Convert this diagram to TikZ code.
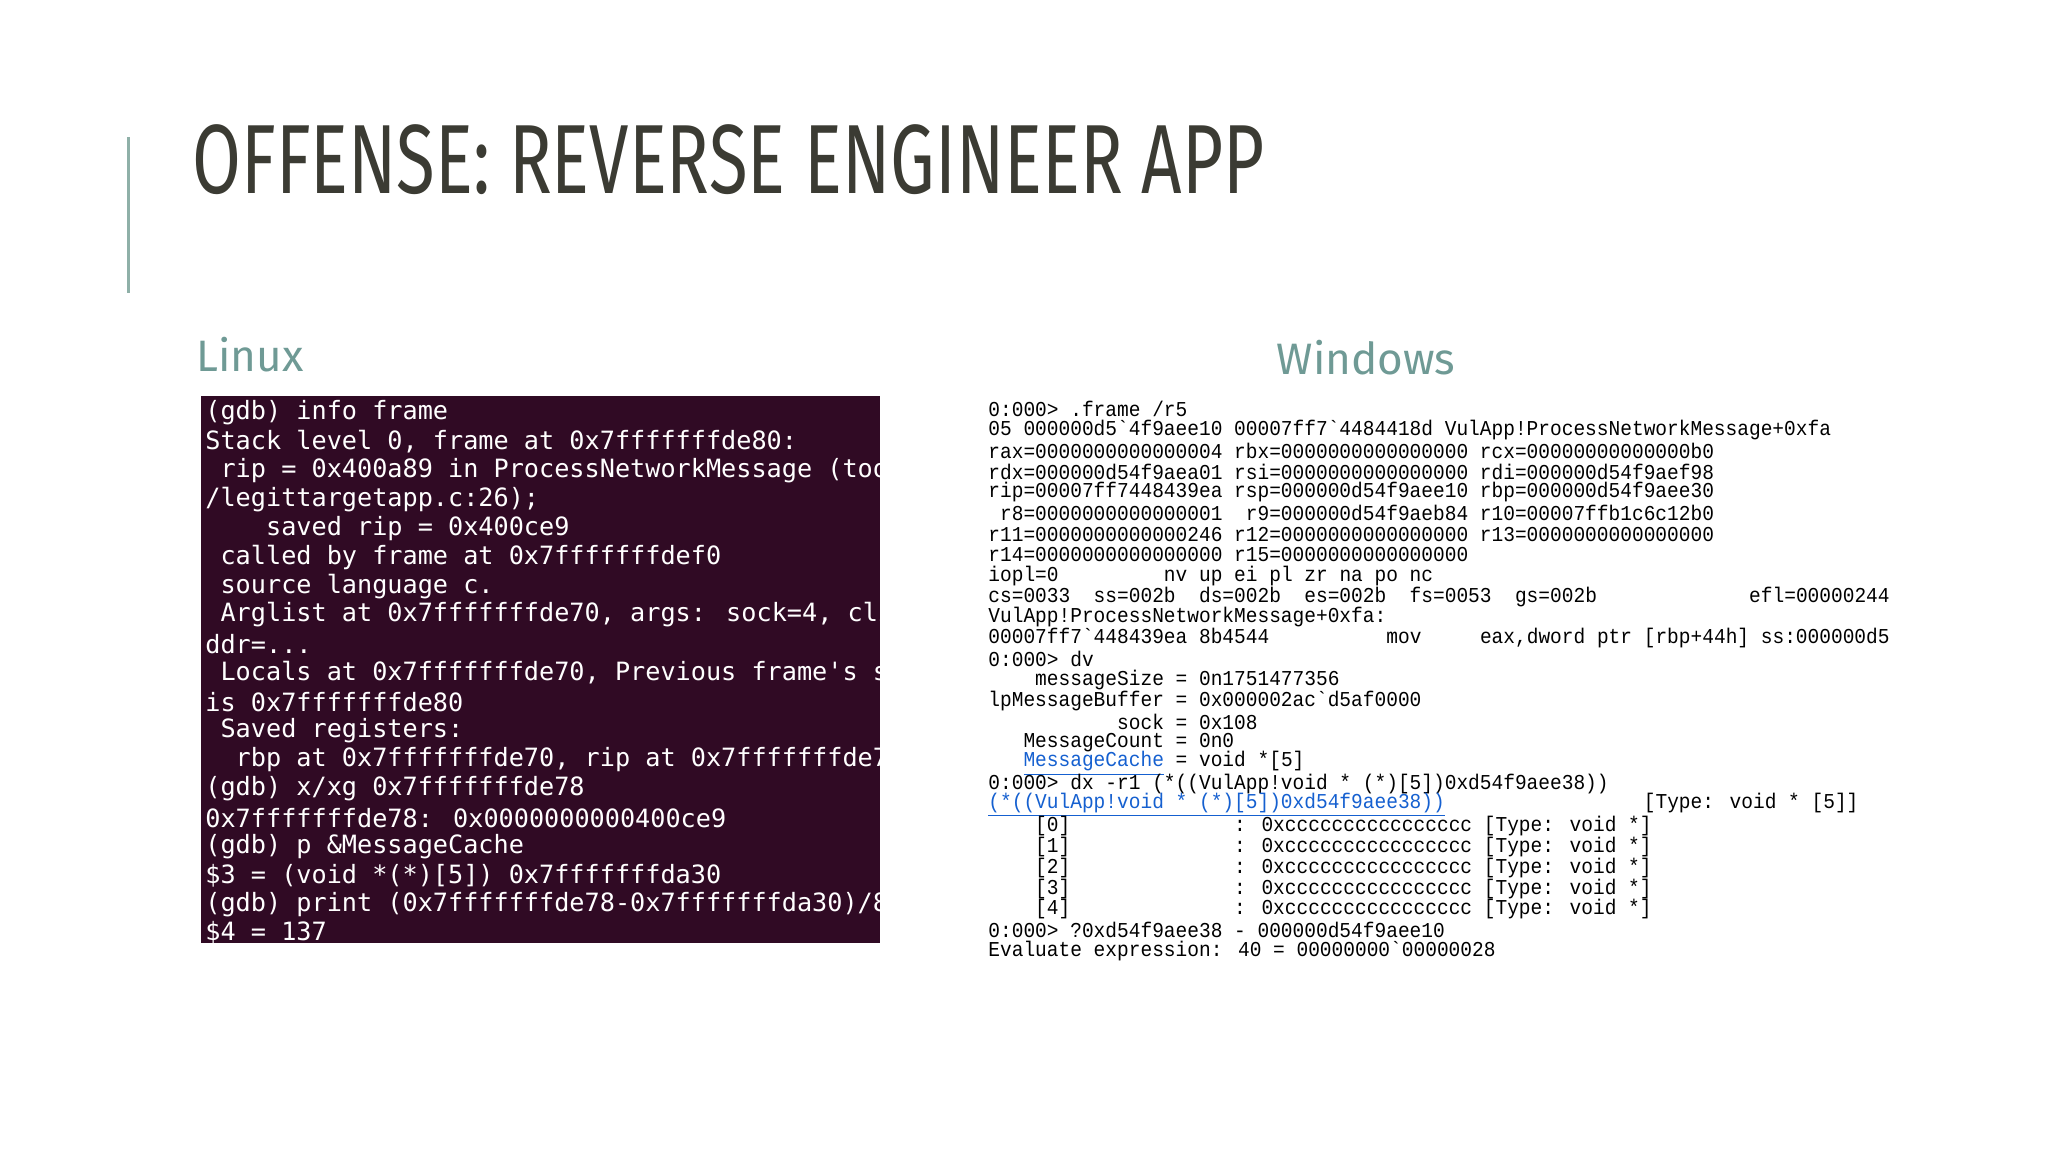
\documentclass[tikz,border=0pt]{standalone}
\usepackage{fontspec}
\setmainfont{Liberation Sans}
\newfontfamily\titlefont[FakeStretch=0.72]{Fira Sans}
\newfontfamily\headfont{Fira Sans}
\newfontfamily\gdbfont{DejaVu Sans Mono}
\newfontfamily\winfont[FakeStretch=0.92]{Liberation Mono}
\definecolor{titlec}{HTML}{3B3B33}
\definecolor{accent}{HTML}{8FB0A8}
\definecolor{headc}{HTML}{6F9A95}
\definecolor{ubuntu}{HTML}{300A24}
\definecolor{linkc}{HTML}{1560D0}
\tikzset{
 gdb/.style={anchor=west,inner sep=0pt,text=white,font=\gdbfont\fontsize{12.6}{14}\selectfont},
 win/.style={anchor=west,inner sep=0pt,text=black,font=\winfont\fontsize{10.6}{12}\selectfont},
 head/.style={inner sep=0pt,text=headc,font=\headfont\fontsize{22}{26}\selectfont}
}
\begin{document}
\begin{tikzpicture}[x=0.5pt,y=-0.5pt]
\path[fill=white,use as bounding box] (0,0) rectangle (2048,1152);
\draw[accent,line width=1.5pt] (128,137) -- (128,293);
\node[anchor=base west,inner sep=0pt,text=titlec] (title) at (192,193)
 {\resizebox{1072\dimexpr0.5pt\relax}{!}{\titlefont\fontsize{50}{56}\selectfont OFFENSE: REVERSE ENGINEER APP}};
\node[head,anchor=west] (linux) at (196,355) {Linux};
\node[head] (windows) at (1366,358) {Windows};
\fill[ubuntu] (201,396) rectangle (880,943);
\begin{scope}
\clip (201,396) rectangle (880,943);
\foreach \t [count=\i from 0] in {
{(gdb) info frame},
{Stack level 0, frame at 0x7fffffffde80:},
{~rip = 0x400a89 in ProcessNetworkMessage (tools},
{/legittargetapp.c:26);},
{~~~~saved rip = 0x400ce9},
{~called by frame at 0x7fffffffdef0},
{~source language c.},
{~Arglist at 0x7fffffffde70, args: sock=4, cli\_a},
{ddr=.{}.{}.},
{~Locals at 0x7fffffffde70, Previous frame's sp},
{is 0x7fffffffde80},
{~Saved registers:},
{~~rbp at 0x7fffffffde70, rip at 0x7fffffffde78},
{(gdb) x/xg 0x7fffffffde78},
{0x7fffffffde78: 0x0000000000400ce9},
{(gdb) p \&MessageCache},
{\$3 = (void *(*)[5]) 0x7fffffffda30},
{(gdb) print (0x7fffffffde78-0x7fffffffda30)/8},
{\$4 = 137}}
 \node[gdb] (g\i) at (205,413+\i*28.9) {\t};
\end{scope}
\foreach \t [count=\i from 0] in {
{0:000> .frame /r5},
{05 000000d5`4f9aee10 00007ff7`4484418d VulApp!ProcessNetworkMessage+0xfa},
{rax=0000000000000004 rbx=0000000000000000 rcx=00000000000000b0},
{rdx=000000d54f9aea01 rsi=0000000000000000 rdi=000000d54f9aef98},
{rip=00007ff7448439ea rsp=000000d54f9aee10 rbp=000000d54f9aee30},
{~r8=0000000000000001~~r9=000000d54f9aeb84 r10=00007ffb1c6c12b0},
{r11=0000000000000246 r12=0000000000000000 r13=0000000000000000},
{r14=0000000000000000 r15=0000000000000000},
{iopl=0~~~~~~~~~nv up ei pl zr na po nc},
{cs=0033~~ss=002b~~ds=002b~~es=002b~~fs=0053~~gs=002b~~~~~~~~~~~~~efl=00000244},
{VulApp!ProcessNetworkMessage+0xfa:},
{00007ff7`448439ea 8b4544~~~~~~~~~~mov~~~~~eax,dword ptr [rbp+44h] ss:000000d5},
{0:000> dv},
{~~~~messageSize = 0n1751477356},
{lpMessageBuffer = 0x000002ac`d5af0000},
{~~~~~~~~~~~sock = 0x108},
{~~~MessageCount = 0n0},
{~~~\textcolor{linkc}{\underline{MessageCache}} = void *[5]},
{0:000> dx -r1 (*((VulApp!void * (*)[5])0xd54f9aee38))},
{\textcolor{linkc}{\underline{(*((VulApp!void~*~(*)[5])0xd54f9aee38))}}~~~~~~~~~~~~~~~~~[Type: void * [5]]},
{~~~~[0]~~~~~~~~~~~~~~: 0xcccccccccccccccc [Type: void *]},
{~~~~[1]~~~~~~~~~~~~~~: 0xcccccccccccccccc [Type: void *]},
{~~~~[2]~~~~~~~~~~~~~~: 0xcccccccccccccccc [Type: void *]},
{~~~~[3]~~~~~~~~~~~~~~: 0xcccccccccccccccc [Type: void *]},
{~~~~[4]~~~~~~~~~~~~~~: 0xcccccccccccccccc [Type: void *]},
{0:000> ?0xd54f9aee38 - 000000d54f9aee10},
{Evaluate expression: 40 = 00000000`00000028}}
 \node[win] (w\i) at (988,409+\i*20.85) {\t};
\end{tikzpicture}
\end{document}
